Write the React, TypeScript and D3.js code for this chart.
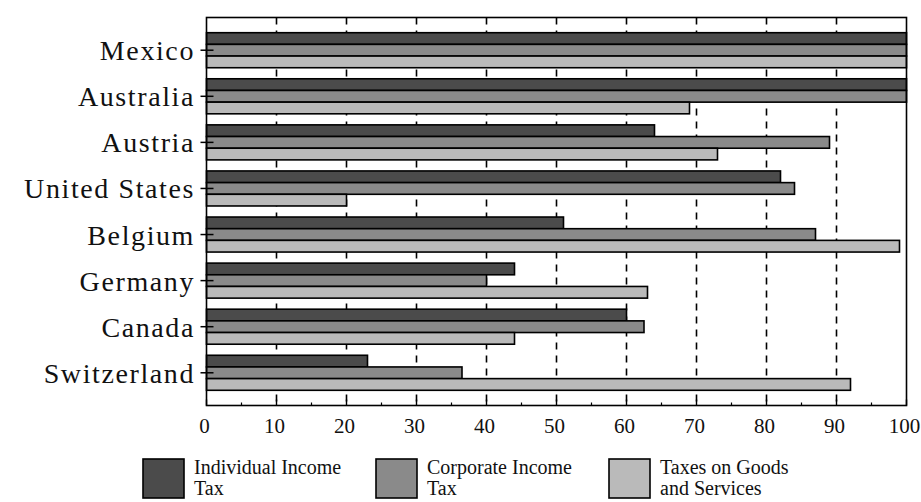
import React from "react";
import * as d3 from "d3";

const countries = ["Mexico", "Australia", "Austria", "United States", "Belgium", "Germany", "Canada", "Switzerland"];
const seriesNames = ["Individual Income Tax", "Corporate Income Tax", "Taxes on Goods and Services"];
const legendLines = [["Individual Income", "Tax"], ["Corporate Income", "Tax"], ["Taxes on Goods", "and Services"]];
const individualIncome = [100, 100, 64, 82, 51, 44, 60, 23];
const corporateIncome = [100, 100, 89, 84, 87, 40, 62.5, 36.5];
const goodsServices = [100, 69, 73, 20, 99, 63, 44, 92];
const xTicks = [0, 10, 20, 30, 40, 50, 60, 70, 80, 90, 100];
const minorTicks = [5, 15, 25, 35, 45, 55, 65, 75, 85, 95];
const colors = ["#4b4b4b", "#8a8a8a", "#bababa"];

const W = 921;
const H = 502;
const left = 206.5;
const right = 906.5;
const top = 17.5;
const bottom = 405.5;
const serif = "'Liberation Serif', 'Times New Roman', serif";

export default function App() {
  const x = d3.scaleLinear().domain([0, 100]).range([left, right]);
  const y = d3.scaleBand<string>().domain(countries).range([top, bottom]).paddingInner(0.24).paddingOuter(0.33);
  const sub = d3.scaleBand<string>().domain(seriesNames).range([0, y.bandwidth()]).padding(0);
  const values = [individualIncome, corporateIncome, goodsServices];
  const legendX = [143, 376, 609];

  return (
    <svg width={W} height={H} style={{ position: "absolute", left: 0, top: 0, background: "#fff" }}>
      <rect x={0} y={0} width={W} height={H} fill="#fff" />
      {/* gridlines */}
      {xTicks.filter((t) => t > 0 && t < 100).map((t) => (
        <line key={"g" + t} x1={x(t)} x2={x(t)} y1={top} y2={bottom} stroke="#000" strokeWidth={1.6} strokeDasharray="7,6" />
      ))}
      {/* bars */}
      {countries.map((c, i) => (
        <g key={c} transform={`translate(0,${y(c)})`}>
          {seriesNames.map((s, k) => (
            <rect
              key={s}
              x={x(0)}
              y={sub(s)}
              width={x(values[k][i]) - x(0)}
              height={sub.bandwidth()}
              fill={colors[k]}
              stroke="#000"
              strokeWidth={1.6}
            />
          ))}
        </g>
      ))}
      {/* frame */}
      <rect x={left} y={top} width={right - left} height={bottom - top} fill="none" stroke="#000" strokeWidth={1.6} />
      {/* bottom ticks */}
      {xTicks.map((t) => (
        <line key={"t" + t} x1={x(t)} x2={x(t)} y1={bottom} y2={bottom - 6} stroke="#000" strokeWidth={1.4} />
      ))}
      {minorTicks.map((t) => (
        <line key={"m" + t} x1={x(t)} x2={x(t)} y1={bottom} y2={bottom - 3} stroke="#000" strokeWidth={1.2} />
      ))}
      {xTicks.map((t) => (
        <text key={"l" + t} x={x(t) - 2} y={433} textAnchor="middle" fontFamily={serif} fontSize={21} fill="#111">
          {t}
        </text>
      ))}
      {/* y ticks and labels */}
      {countries.map((c) => {
        const cy = (y(c) as number) + y.bandwidth() / 2;
        return (
          <g key={"y" + c}>
            <line x1={left - 6} x2={left + 7} y1={cy} y2={cy} stroke="#000" strokeWidth={1.5} />
            <text x={195} y={cy + 10} textAnchor="end" fontFamily={serif} fontSize={28} letterSpacing={1.6} fill="#111">
              {c}
            </text>
          </g>
        );
      })}
      {/* legend */}
      {seriesNames.map((s, k) => (
        <g key={"lg" + s}>
          <rect x={legendX[k]} y={459} width={41} height={39} fill={colors[k]} stroke="#000" strokeWidth={1.6} />
          {legendLines[k].map((ln, j) => (
            <text key={j} x={legendX[k] + 51} y={474 + j * 21} fontFamily={serif} fontSize={20} fill="#111">
              {ln}
            </text>
          ))}
        </g>
      ))}
    </svg>
  );
}
